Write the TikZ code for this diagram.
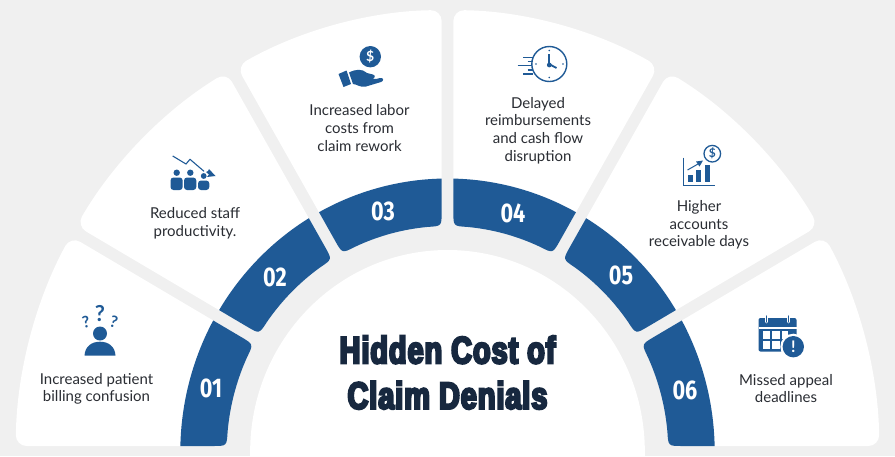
\documentclass[tikz,border=0pt]{standalone}
\usepackage{fontspec}
\setmainfont{Lato}
\newfontfamily\numfont[FakeStretch=0.80]{Fira Sans}
\newfontfamily\titlefont[LetterSpace=2.5,BoldFeatures={FakeStretch=0.76,FakeBold=6,LetterSpace=2.5}]{Liberation Sans}
\definecolor{pagegray}{HTML}{F0F0F0}
\definecolor{ringblue}{HTML}{1F5A96}
\definecolor{labelink}{HTML}{2A2D33}
\definecolor{titleink}{HTML}{17283F}
\tikzset{
	cardlabel/.style={text=labelink, align=center, font=\fontsize{15}{17.6}\selectfont},
	ringnum/.style={text=white, font=\numfont\bfseries\fontsize{27}{27}\selectfont},
	iconfill/.style={fill=ringblue, draw=none},
	iconline/.style={draw=ringblue, line width=1.4pt},
}
% card: angle from, angle to
\newcommand{\cardsector}[2]{
	\pgfmathsetmacro{\lowin}{#1+asin(6/250)}
	\pgfmathsetmacro{\lowout}{#1+asin(6/442)}
	\pgfmathsetmacro{\highin}{#2-asin(6/250)}
	\pgfmathsetmacro{\highout}{#2-asin(6/442)}
	\fill [white, rounded corners=11pt] (\lowin:250) -- (\lowout:442) arc [start angle=\lowout, end angle=\highout, radius=442]
		-- (\highin:250) -- cycle;
}
% blue block: angle from, angle to
\newcommand{\ringblock}[2]{
	\pgfmathsetmacro{\lowout}{#1+asin(6/273.5)}
	\pgfmathsetmacro{\highout}{#2-asin(6/273.5)}
	\pgfmathsetmacro{\lowmid}{#1+asin(6/240)}
	\pgfmathsetmacro{\highmid}{#2-asin(6/240)}
	\pgfmathsetmacro{\lowin}{#1+asin(6/226)}
	\pgfmathsetmacro{\highin}{#2-asin(6/226)}
	\pgfmathsetmacro{\lowarc}{\lowin+3.6}
	\pgfmathsetmacro{\higharc}{\highin-3.6}
	\fill [ringblue] (\lowmid:240) -- (\lowout:273.5) arc [start angle=\lowout, end angle=\highout, radius=273.5]
		-- (\highmid:240) .. controls (\highin:226) .. (\higharc:226)
		arc [start angle=\higharc, end angle=\lowarc, radius=226]
		.. controls (\lowin:226) .. (\lowmid:240) -- cycle;
}
\begin{document}
\begin{tikzpicture}[x=1pt, y=-1pt]
	\useasboundingbox (0, 0) rectangle (895, 456);
	\clip (0, 0) rectangle (895, 456);
	\fill [pagegray] (0, 0) rectangle (895, 456);
	\begin{scope}[shift={(447.5, 452)}, x=0.977pt, y=1pt]
		% Cards
		\cardsector{0}{30}
		\cardsector{30}{60}
		\cardsector{60}{90}
		\cardsector{90}{120}
		\cardsector{120}{150}
		\cardsector{150}{180}
		% Blue ring
		\ringblock{0}{30}
		\ringblock{30}{60}
		\ringblock{60}{90}
		\ringblock{90}{120}
		\ringblock{120}{150}
		\ringblock{150}{180}
		% Centre
		\fill [white] (0, 0) circle (202);
	\end{scope}
	\node [text=titleink, align=center, font=\titlefont\bfseries\fontsize{38}{45.5}\selectfont] (title) at (447.5, 372.5) {Hidden Cost of\\Claim Denials};
	% Numbers
	\node [ringnum] (num1) at (211, 388) {01};
	\node [ringnum] (num2) at (275, 277) {02};
	\node [ringnum] (num3) at (383, 211) {03};
	\node [ringnum] (num4) at (513, 213) {04};
	\node [ringnum] (num5) at (621, 275) {05};
	\node [ringnum] (num6) at (685, 390) {06};
	% Labels
	\node [cardlabel] (label1) at (96.5, 389) {Increased patient\\billing confusion};
	\node [cardlabel] (label2) at (195, 223.5) {Reduced staff\\productivity.};
	\node [cardlabel] (label3) at (359.5, 128) {Increased labor\\costs from\\claim rework};
	\node [cardlabel] (label4) at (538, 130.5) {Delayed\\reimbursements\\and cash flow\\disruption};
	\node [cardlabel] (label5) at (699, 225) {Higher\\accounts\\receivable days};
	\node [cardlabel] (label6) at (786, 388.5) {Missed appeal\\deadlines};
	% Icon 1
	\fill [iconfill] (100, 333.5) circle (7);
	\fill [iconfill] (84.5, 355.7) .. controls (85, 346) and (92, 341.7) .. (100, 341.7) .. controls (108, 341.7) and (115, 346) .. (115.5, 355.7) -- cycle;
	\node [text=ringblue, font=\bfseries\fontsize{22}{22}\selectfont] (quest2) at (100, 314) {?};
	\node [text=ringblue, rotate=12, font=\bfseries\fontsize{16}{16}\selectfont] (quest1) at (86, 322) {?};
	\node [text=ringblue, rotate=-15, font=\bfseries\fontsize{16}{16}\selectfont] (quest3) at (114, 322) {?};
	% Icon 2
	\draw [iconline, line width=1.1pt] (172.7, 156) -- (186, 164) -- (190, 159.3) -- (204, 171.3);
	\fill [iconfill] (209, 169) -- (215.5, 176) -- (207, 177) -- (209, 174.5) -- (206, 172) -- (208, 171) -- cycle;
	\fill [iconfill] (176.7, 172.7) circle (3.2);
	\fill [iconfill] (190.3, 172.7) circle (3.2);
	\fill [iconfill] (203.7, 176) circle (2.9);
	\fill [iconfill, rounded corners=3pt] (170.5, 190) -- (170.5, 177.5) -- (182.7, 177.5) -- (182.7, 190) -- cycle;
	\fill [iconfill, rounded corners=3pt] (184, 190) -- (184, 177.5) -- (196.3, 177.5) -- (196.3, 190) -- cycle;
	\fill [iconfill, rounded corners=3pt] (198, 190) -- (198, 180.5) -- (209.3, 180.5) -- (209.3, 190) -- cycle;
	% Icon 3
	\fill [iconfill] (370.3, 56.7) circle (10.7);
	\node [text=white, font=\bfseries\fontsize{14}{14}\selectfont] (dollar3) at (370.3, 56.7) {\$};
	\fill [iconfill] (338.5, 74) -- (346.5, 70.5) -- (351, 84) -- (343.5, 87) -- cycle;
	\fill [iconfill] (349, 72.5) .. controls (356, 69) and (362, 68.5) .. (367, 73) -- (373, 74.5) .. controls (376, 75.5) and (375, 78.5) .. (372, 78.5) -- (376, 79) -- (380, 78) .. controls (384, 77.5) and (384, 81) .. (381, 82) -- (366, 86.5) .. controls (360, 88) and (357, 84) .. (353, 84) -- cycle;
	% Icon 4
	\draw [iconline] (549.3, 64) circle (17.5);
	\fill [iconfill] (549.3, 65) circle (2.4);
	\draw [iconline, line width=1.8pt] (549, 54) -- (549, 64) -- (556.5, 68);
	\fill [iconfill] (549.3, 50.5) circle (0.9);
	\fill [iconfill] (549.3, 77.5) circle (0.9);
	\fill [iconfill] (536, 64) circle (0.9);
	\fill [iconfill] (563, 64) circle (0.9);
	\draw [iconline, line width=1.2pt] (523, 57.3) -- (533, 57.3);
	\draw [iconline, line width=1.2pt] (527.5, 61.3) -- (533, 61.3);
	\draw [iconline, line width=1.2pt] (517.5, 65.7) -- (532, 65.7);
	\draw [iconline, line width=1.2pt] (527.5, 70) -- (533, 70);
	\draw [iconline, line width=1.2pt] (523, 74) -- (533, 74);
	% Icon 5
	\draw [iconline, line width=1pt] (683, 157.5) -- (683, 185.5) -- (715, 185.5);
	\fill [iconfill] (687.5, 174.5) rectangle (692.5, 182);
	\fill [iconfill] (696, 169.5) rectangle (701, 182);
	\fill [iconfill] (704.5, 165) rectangle (709.5, 182);
	\draw [iconline, line width=1pt] (687.5, 170) -- (698, 164);
	\fill [iconfill] (703, 160.5) -- (696, 161.5) -- (699.5, 166.5) -- cycle;
	\draw [iconline, line width=1.3pt] (712.3, 153.7) circle (8.3);
	\node [text=ringblue, font=\bfseries\fontsize{12}{12}\selectfont] (dollar5) at (712.3, 153.7) {\$};
	% Icon 6
	\fill [iconfill, rounded corners=2pt] (758.5, 318) rectangle (796.5, 351.5);
	\fill [white] (758.5, 326.7) rectangle (796.5, 329);
	\fill [white] (762.5, 331) rectangle (769.5, 339);
	\fill [white] (772, 331) rectangle (779.5, 339);
	\fill [white] (782, 331) rectangle (788, 339);
	\fill [white] (762.5, 341) rectangle (769.5, 348.5);
	\fill [white] (772, 341) rectangle (779.5, 348.5);
	\draw [draw=white, line width=2.8pt, line cap=round] (766.7, 316) -- (766.7, 322);
	\draw [draw=white, line width=2.8pt, line cap=round] (788.3, 316) -- (788.3, 322);
	\draw [iconline, line width=1.4pt, line cap=round] (766.7, 316) -- (766.7, 322);
	\draw [iconline, line width=1.4pt, line cap=round] (788.3, 316) -- (788.3, 322);
	\fill [white] (793.3, 346.7) circle (13);
	\fill [iconfill] (793.3, 346.7) circle (10.7);
	\node [text=white, font=\bfseries\fontsize{16}{16}\selectfont] (alert6) at (793.3, 346.7) {!};
\end{tikzpicture}
\end{document}
